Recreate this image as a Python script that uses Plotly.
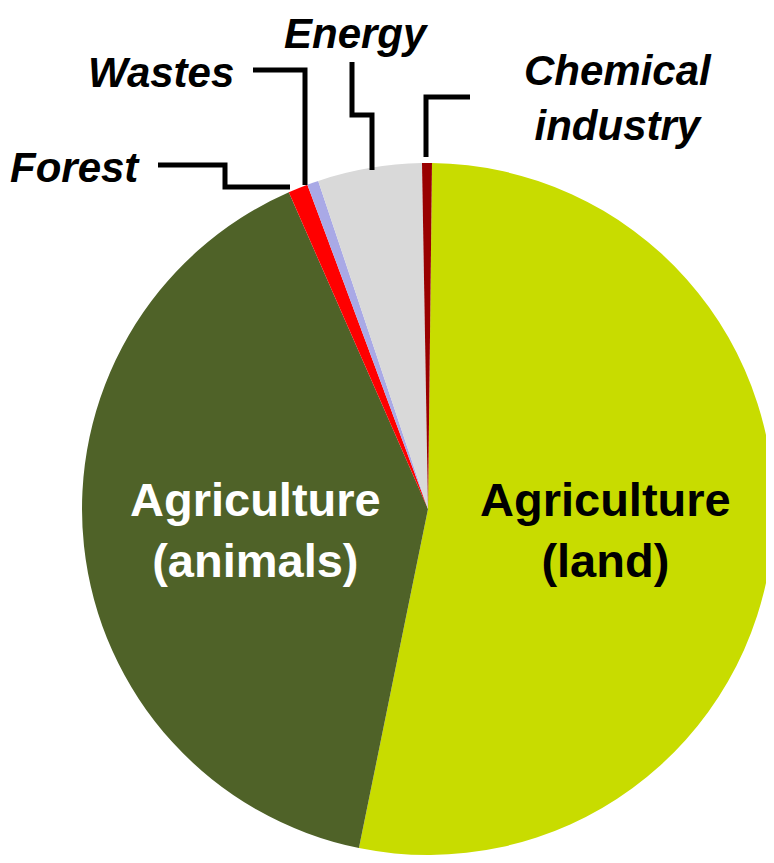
import plotly.graph_objects as go

# Data (shares, % of total)
sectors = ["Agriculture (land)", "Agriculture (animals)", "Forest", "Wastes", "Energy", "Chemical industry"]
shares = [53.0, 40.2, 0.92, 0.53, 4.86, 0.46]
colors = ["#C8DC00", "#4F6228", "#FF0000", "#A9A9E6", "#D9D9D9", "#990000"]

W, H = 774, 863
OFF = 8  # page body margin
cx, cy, r = 428, 509, 346  # pie centre / radius in screen pixels


def px(x):
    return (x - OFF) / W


def py(y):
    return 1 - (y - OFF) / H


fig = go.Figure(go.Pie(
    labels=sectors,
    values=shares,
    sort=False,
    direction="clockwise",
    rotation=0.66,
    marker=dict(colors=colors, line=dict(width=0)),
    textinfo="none",
    hoverinfo="label+percent",
    showlegend=False,
    domain=dict(x=[px(cx - r), min(1, px(cx + r))], y=[py(cy + r), py(cy - r)]),
))

# leader lines (screen pixel points)
leaders = [
    [(158, 165), (225, 165), (225, 187), (290, 187)],   # Forest
    [(253, 70), (305, 70), (305, 185)],                 # Wastes
    [(352, 62), (352, 115), (372, 115), (372, 170)],    # Energy
    [(470, 97), (426, 97), (426, 157)],                 # Chemical industry
]
shapes = []
for pts in leaders:
    path = "M " + " L ".join(f"{px(x)},{py(y)}" for x, y in pts)
    shapes.append(dict(type="path", xref="paper", yref="paper", path=path,
                       line=dict(color="black", width=5)))

out_font = dict(family="Arial, Liberation Sans, sans-serif", size=42, color="black",
                weight="bold", style="italic")
in_font = dict(family="Arial, Liberation Sans, sans-serif", size=47, weight="bold")

annotations = [
    dict(x=px(75), y=py(167), text="Forest", font=out_font),
    dict(x=px(161), y=py(72), text="Wastes", font=out_font),
    dict(x=px(356), y=1, yanchor="top", text="Energy", font=out_font),
    dict(x=px(618), y=py(98), text="Chemical<br>industry", font=out_font),
    dict(x=px(605), y=py(530), text="Agriculture<br>(land)", font=dict(in_font, color="black")),
    dict(x=px(255), y=py(530), text="Agriculture<br>(animals)", font=dict(in_font, color="white")),
]
for a in annotations:
    a.setdefault("yanchor", "middle")
    a.update(xref="paper", yref="paper", showarrow=False, xanchor="center")

fig.update_layout(
    width=W, height=H,
    margin=dict(l=0, r=0, t=0, b=0),
    paper_bgcolor="white",
    plot_bgcolor="white",
    shapes=shapes,
    annotations=annotations,
)

fig.write_html("out.html")
